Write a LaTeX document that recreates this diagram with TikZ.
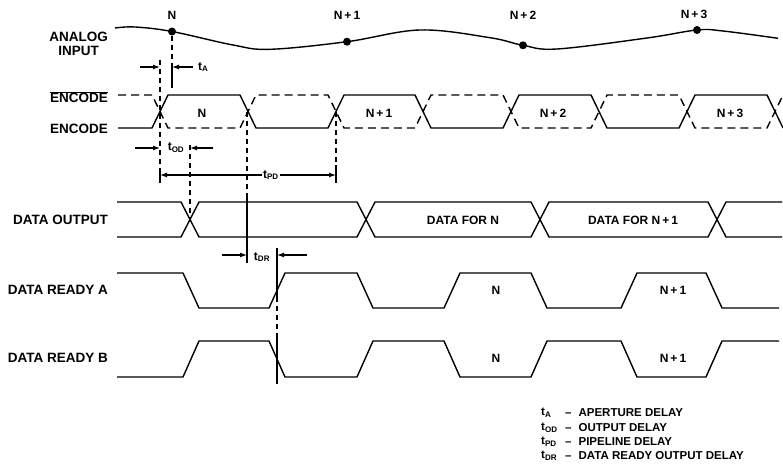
\documentclass[tikz,border=0pt]{standalone}
\usepackage{fontspec}
\setmainfont{Liberation Sans}
\usepackage{tikz}
\usetikzlibrary{arrows.meta, calc}
\tikzset{
	sidelabel/.style={
			anchor=east,
			align=center,
			inner sep=0pt,
			font=\fontsize{13.5}{14}\selectfont\bfseries
		},
	steplabel/.style={
			inner sep=1pt,
			font=\fontsize{12}{13}\selectfont\bfseries
		},
	keylabel/.style={
			anchor=west,
			inner sep=1pt,
			font=\fontsize{11.5}{12}\selectfont\bfseries
		},
	sampledot/.style={
			circle,
			fill=black,
			minimum size=8pt,
			inner sep=0pt
		},
	wave/.style={
			line width=1.4pt,
			line join=round
		},
	wavedash/.style={
			wave,
			dash pattern=on 8pt off 5pt
		},
	marker/.style={
			line width=1.2pt
		},
	markerdash/.style={
			marker,
			dash pattern=on 5pt off 4pt
		},
	dimarrow/.style={
			marker,
			-{Latex[length=7pt,width=5pt]}
		},
	dimboth/.style={
			marker,
			{Latex[length=7pt,width=5pt]}-{Latex[length=7pt,width=5pt]}
		}
}

\begin{document}
\begin{tikzpicture}[x=1pt, y=-1pt]
\useasboundingbox (0,0) rectangle (783,473);

\node[sidelabel] (lAnalog) at (108,44) {ANALOG\\INPUT};
\node[sidelabel] (lEncBar) at (108,97) {$\overline{\mbox{ENCODE}}$};
\node[sidelabel] (lEnc) at (108,129) {ENCODE};
\node[sidelabel] (lData) at (108,220) {DATA OUTPUT};
\node[sidelabel] (lRdyA) at (108,290) {DATA READY A};
\node[sidelabel] (lRdyB) at (108,358) {DATA READY B};

\draw[wave] plot[smooth, tension=0.6] coordinates {(115,28) (135,27) (172,31.5) (233,45) (270,49.3) (347,41.7) (420,30) (490,37.7) (523,45.3) (557,49) (647,38) (697,30) (723,31) (778,38.3)};
\node[sampledot] (sN) at (172,31.5) {};
\node[sampledot] (sN1) at (347,41.7) {};
\node[sampledot] (sN2) at (523,45.3) {};
\node[sampledot] (sN3) at (697,30) {};
\node[steplabel] (nN) at (172,15) {N};
\node[steplabel] (nN1) at (347,15) {N\,+\,1};
\node[steplabel] (nN2) at (523,15) {N\,+\,2};
\node[steplabel] (nN3) at (694,14) {N\,+\,3};

\draw[wave] (118,128) -- (152,128) -- (168,95) -- (240,95) -- (256,128) -- (328,128) -- (344,95) -- (415,95) -- (431,128) -- (503,128) -- (519,95) -- (591,95) -- (607,128) -- (679,128) -- (695,95) -- (767,95) -- (783,128);
\draw[wavedash] (118,95) -- (152,95) -- (168,128) -- (240,128) -- (256,95) -- (328,95) -- (344,128) -- (415,128) -- (431,95) -- (503,95) -- (519,128) -- (591,128) -- (607,95) -- (679,95) -- (695,128) -- (767,128) -- (783,95);
\node[steplabel] (eN) at (202,113) {N};
\node[steplabel] (eN1) at (379,113) {N\,+\,1};
\node[steplabel] (eN2) at (553,113) {N\,+\,2};
\node[steplabel] (eN3) at (730,113) {N\,+\,3};

\draw[wave] (117,202) -- (181,202) -- (199,237) -- (357,237) -- (375,202) -- (531,202) -- (549,237) -- (708,237) -- (726,202) -- (782,202);
\draw[wave] (117,237) -- (181,237) -- (199,202) -- (357,202) -- (375,237) -- (531,237) -- (549,202) -- (708,202) -- (726,237) -- (782,237);
\node[steplabel] (dN) at (463,220) {DATA FOR N};
\node[steplabel] (dN1) at (633,220) {DATA FOR N\,+\,1};

\draw[wave] (117,273) -- (183,273) -- (199,308) -- (269,308) -- (285,273) -- (357,273) -- (373,308) -- (444,308) -- (460,273) -- (531,273) -- (547,308) -- (621,308) -- (637,273) -- (706,273) -- (722,308) -- (779,308);
\draw[wave] (117,377) -- (183,377) -- (199,341) -- (269,341) -- (285,377) -- (357,377) -- (373,341) -- (444,341) -- (460,377) -- (531,377) -- (547,341) -- (621,341) -- (637,377) -- (706,377) -- (722,341) -- (779,341);
\node[steplabel] (rAN) at (496,290) {N};
\node[steplabel] (rAN1) at (673,290) {N\,+\,1};
\node[steplabel] (rBN) at (496,358) {N};
\node[steplabel] (rBN1) at (673,358) {N\,+\,1};

\coordinate (aL0) at (160,60);
\coordinate (aL1) at (160,170);
\coordinate (aL2) at (160,183);
\coordinate (aR0) at (172,63);
\coordinate (aR1) at (172,88);
\coordinate (odR0) at (190,145);
\coordinate (odR1) at (190,220);
\coordinate (c1a) at (247,112);
\coordinate (c1b) at (247,198);
\coordinate (c1c) at (247,263);
\coordinate (c2a) at (336,112);
\coordinate (c2b) at (336,165);
\coordinate (c2c) at (336,183);
\coordinate (drA) at (277,248);
\coordinate (drB) at (277,297);
\coordinate (drC) at (277,335);
\coordinate (drD) at (277,384);

\draw[markerdash] (aL0) -- (aL1);
\draw[marker] (aL1) -- (aL2);
\draw[markerdash] (sN) -- (aR0);
\draw[marker] (aR0) -- (aR1);
\draw[markerdash] (odR0) -- (odR1);
\draw[markerdash] (c1a) -- (c1b);
\draw[marker] (c1b) -- (c1c);
\draw[markerdash] (c2a) -- (c2b);
\draw[marker] (c2b) -- (c2c);
\draw[marker] (drA) -- (drB);
\draw[markerdash] (drB) -- (drC);
\draw[marker] (drC) -- (drD);

\coordinate (aArrL) at (140,67);
\coordinate (aArrR) at (193,67);
\draw[dimarrow] (aArrL) -- (aL0 |- aArrL);
\draw[dimarrow] (aArrR) -- (aR0 |- aArrR);
\node[steplabel, anchor=west] (tA) at (197,67) {t\textsubscript{A}};

\coordinate (odArrL) at (135,148);
\coordinate (odArrR) at (213,148);
\draw[dimarrow] (odArrL) -- (aL0 |- odArrL);
\draw[dimarrow] (odArrR) -- (odR0 |- odArrR);
\node[steplabel] (tOD) at (176,148) {t\textsubscript{OD}};

\coordinate (pdL) at (160,175);
\coordinate (pdR) at (336,175);
\draw[dimboth] (pdL) -- node[steplabel, fill=white, pos=0.63] (tPD) {t\textsubscript{PD}} (pdR);

\coordinate (drArrL) at (222,255);
\coordinate (drArrR) at (307,255);
\draw[dimarrow] (drArrL) -- (c1a |- drArrL);
\draw[dimarrow] (drArrR) -- (drA |- drArrR);
\node[steplabel] (tDR) at (262,257) {t\textsubscript{DR}};

\node[keylabel] (kA) at (540,413) {t\textsubscript{A}};
\node[keylabel] (kOD) at (540,428) {t\textsubscript{OD}};
\node[keylabel] (kPD) at (540,442) {t\textsubscript{PD}};
\node[keylabel] (kDR) at (540,456) {t\textsubscript{DR}};
\node[keylabel] (vA) at (564,413) {--\hspace{7pt}APERTURE DELAY};
\node[keylabel] (vOD) at (564,428) {--\hspace{7pt}OUTPUT DELAY};
\node[keylabel] (vPD) at (564,442) {--\hspace{7pt}PIPELINE DELAY};
\node[keylabel] (vDR) at (564,456) {--\hspace{7pt}DATA READY OUTPUT DELAY};

\end{tikzpicture}
\end{document}
